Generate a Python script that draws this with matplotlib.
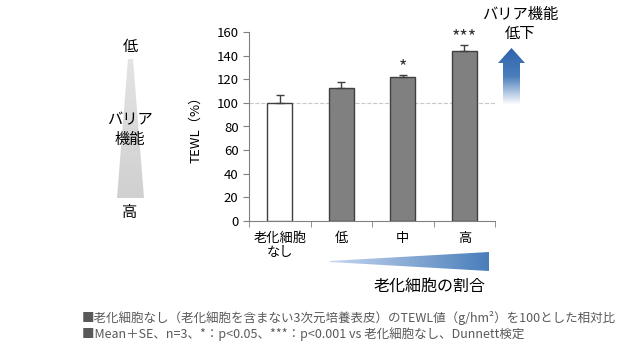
import numpy as np
import matplotlib.pyplot as plt
from matplotlib.patches import Polygon
from matplotlib.colors import LinearSegmentedColormap

plt.rcParams['font.family'] = ['Noto Sans CJK JP', 'DejaVu Sans']

# datos
categorias = ['老化細胞\nなし', '低', '中', '高']
tewl = [100, 113, 121.5, 143.5]
error_se = [7, 5, 2, 5.5]
signif = ['', '', '*', '***']
colores = ['white', '#808080', '#808080', '#808080']

W, H = 636, 350
fig = plt.figure(figsize=(W / 100, H / 100), dpi=100)

# capa de fondo en pixeles para flechas y triangulos
bg = fig.add_axes([0, 0, 1, 1])
bg.set_xlim(0, W)
bg.set_ylim(H, 0)
bg.axis('off')

# ejes principales
ax = fig.add_axes([249 / W, 1 - 221 / H, 246 / W, 189 / H])
x = np.arange(len(categorias))
ax.bar(x, tewl, width=0.4, color=colores, edgecolor='#404040', linewidth=1.0, zorder=3)
ax.errorbar(x, tewl, yerr=[np.zeros(len(x)), error_se], fmt='none', ecolor='#404040',
            elinewidth=1.0, capsize=3, capthick=1.0, zorder=4)
for xi, v, e, s in zip(x, tewl, error_se, signif):
    if s:
        ax.text(xi, v + e - 1, s, ha='center', va='bottom', fontsize=13, color='#333333')
ax.axhline(100, color='#c8c8c8', linestyle='--', linewidth=0.8, zorder=1)
ax.set_xlim(-0.5, 3.5)
ax.set_ylim(0, 160)
ax.set_yticks(range(0, 161, 20))
ax.set_xticks(x)
ax.set_xticklabels(categorias, fontsize=9.5, linespacing=1.1)
ax.set_xticks(np.arange(-0.5, 4, 1), minor=True)
ax.tick_params(axis='x', which='major', length=0, pad=8)
ax.tick_params(axis='x', which='minor', length=4, color='#808080')
ax.tick_params(axis='y', labelsize=9.5, length=4, color='#808080')
for sp in ['top', 'right']:
    ax.spines[sp].set_visible(False)
for sp in ['left', 'bottom']:
    ax.spines[sp].set_color('#808080')
ax.set_ylabel('TEWL（%）', fontsize=9.5, labelpad=10)

# triangulo gris a la izquierda
img = np.linspace(0, 1, 100).reshape(-1, 1)
gris = LinearSegmentedColormap.from_list('g', ['#e4e4e4', '#d0d0d0'])
tri_izq = Polygon([[128, 59], [133, 59], [144, 198], [117, 198]], closed=True,
                  transform=bg.transData, facecolor='none', edgecolor='none')
bg.add_patch(tri_izq)
im = bg.imshow(img, cmap=gris, extent=[115, 146, 198, 59], aspect='auto')
im.set_clip_path(tri_izq)
bg.text(130, 47, '低', ha='center', va='center', fontsize=11)
bg.text(130, 213, '高', ha='center', va='center', fontsize=11)
bg.text(130, 130, 'バリア\n機能', ha='center', va='center', fontsize=11, linespacing=1.2)

# triangulo azul abajo
azul = LinearSegmentedColormap.from_list('b', ['#c5d6ee', '#4a7ebb'])
tri_abajo = Polygon([[330, 261], [489, 252], [489, 271], [330, 262]], closed=True,
                    transform=bg.transData, facecolor='none', edgecolor='none')
bg.add_patch(tri_abajo)
im2 = bg.imshow(img.T, cmap=azul, extent=[330, 489, 272, 251], aspect='auto')
im2.set_clip_path(tri_abajo)
bg.text(430, 286, '老化細胞の割合', ha='center', va='center', fontsize=11.5)

# flecha azul arriba
flecha = Polygon([[503, 105], [503, 63], [498, 63], [511.5, 48], [525, 63], [520, 63], [520, 105]],
                 closed=True, transform=bg.transData, facecolor='none', edgecolor='none')
bg.add_patch(flecha)
azul2 = LinearSegmentedColormap.from_list('b2', ['#2e64ad', '#4a7ebb', '#ffffff'])
im3 = bg.imshow(img, cmap=azul2, extent=[497, 526, 105, 48], aspect='auto')
im3.set_clip_path(flecha)
bg.text(520, 24, 'バリア機能\n低下', ha='center', va='center', fontsize=11, linespacing=1.15)

# notas al pie
bg.text(82, 318, '■老化細胞なし（老化細胞を含まない3次元培養表皮）のTEWL値（g/hm²）を100とした相対比',
        ha='left', va='center', fontsize=9, color='#595959')
bg.text(82, 334, '■Mean＋SE、n=3、*：p<0.05、***：p<0.001 vs 老化細胞なし、Dunnett検定',
        ha='left', va='center', fontsize=9, color='#595959')

fig.savefig('out.png', dpi=100)
